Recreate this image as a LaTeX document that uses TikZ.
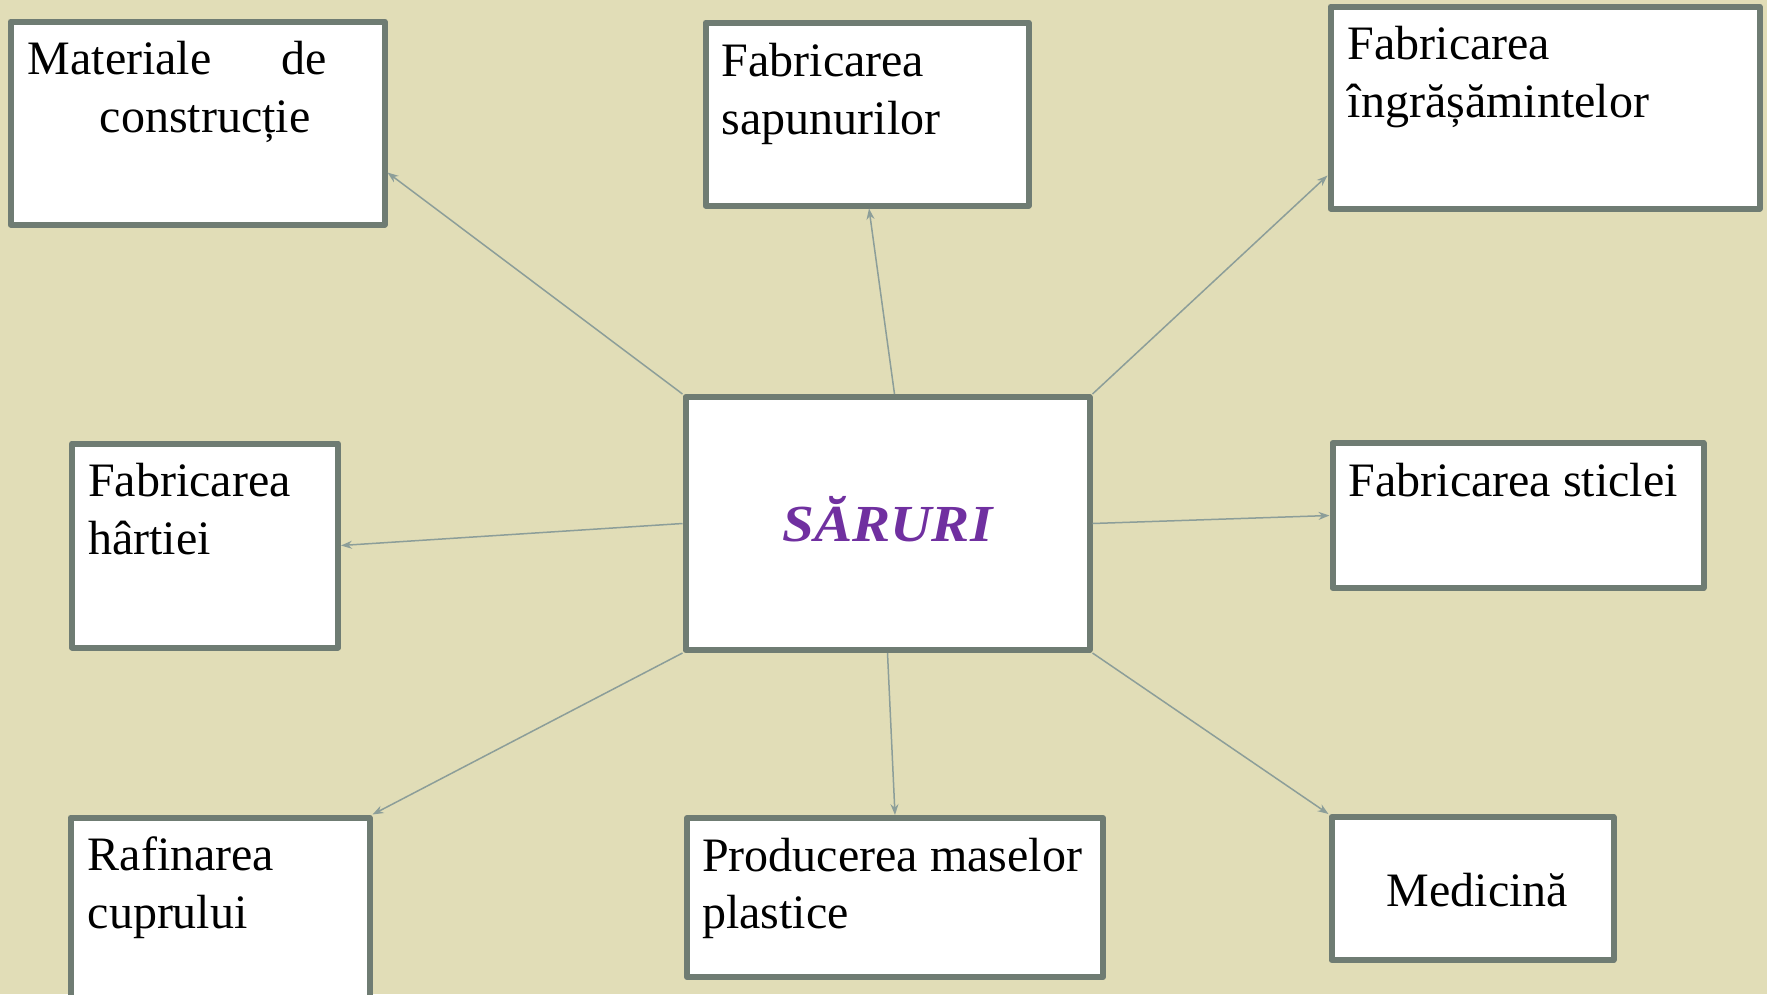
\documentclass[tikz,border=0pt]{standalone}
\usepackage{fontspec}
\setmainfont{Liberation Serif}
\usetikzlibrary{arrows.meta,calc}
\definecolor{bgc}{HTML}{E1DDB7}
\definecolor{bordc}{HTML}{6F7C73}
\definecolor{arrc}{HTML}{8C9E99}
\definecolor{purp}{HTML}{7030A0}
\tikzset{
  box/.style={draw=bordc, line width=6pt, fill=white, rectangle, inner sep=0pt, line join=round},
  lbl/.style={inner sep=0pt, anchor=base west, align=left, font=\fontsize{48}{57.5}\selectfont},
  conn/.style={draw=arrc, line width=1.5pt, -{Stealth[length=11pt,width=8pt]}}
}
\begin{document}
\begin{tikzpicture}[x=1pt,y=-1pt]
\fill[bgc] (0,0) rectangle (1767,994);
\useasboundingbox (0,0) rectangle (1767,994);
% boxes
\node[box, minimum width=374pt, minimum height=203pt] (mat) at (197.5,123) {};
\node[box, minimum width=323pt, minimum height=183pt] (sap) at (867,114) {};
\node[box, minimum width=429pt, minimum height=202pt] (ing) at (1545,107.5) {};
\node[box, minimum width=266pt, minimum height=204pt] (har) at (205,545.5) {};
\node[box, minimum width=404pt, minimum height=253pt] (sar) at (887.5,523.5) {};
\node[box, minimum width=371pt, minimum height=145pt] (sti) at (1518,515.5) {};
\node[box, minimum width=299pt, minimum height=190pt] (cup) at (220,912.5) {};
\node[box, minimum width=416pt, minimum height=159pt] (pla) at (895,897.5) {};
\node[box, minimum width=282pt, minimum height=143pt] (med) at (1472.5,888.5) {};
% texts (base = baseline of last line)
\node[lbl] (tmat) at ($(mat.north west)+(20,113.5)$) {\makebox[299pt][l]{Materiale\hfill de}\\\hspace*{72pt}construcție};
\node[lbl] (tsap) at ($(sap.north west)+(19,114.5)$) {Fabricarea\\sapunurilor};
\node[lbl] (ting) at ($(ing.north west)+(20,113.5)$) {Fabricarea\\îngrășămintelor};
\node[lbl] (thar) at ($(har.north west)+(19,113.5)$) {Fabricarea\\hârtiei};
\node[lbl] (tsti) at ($(sti.north west)+(19,56)$) {Fabricarea sticlei};
\node[lbl] (tcup) at ($(cup.north west)+(20,113.5)$) {Rafinarea\\cuprului};
\node[lbl] (tpla) at ($(pla.north west)+(18,113.5)$) {Producerea maselor\\plastice};
\node[lbl, anchor=base] (tmed) at ($(med.center)+(5,18)$) {Medicină};
\node[inner sep=0pt, anchor=base, text=purp, font=\fontsize{52}{60}\selectfont\bfseries\itshape] (tsar) at ($(sar.center)+(0,18)$) {\scalebox{1.1}[1]{SĂRURI}};
% connectors
\draw[conn] (sar.north west) -- ($(mat.south east)+(0,-55)$);
\draw[conn] ($(sar.north)+(7,0)$) -- ($(sap.south)+(2,0)$);
\draw[conn] (sar.north east) -- ($(ing.south west)+(0,-36)$);
\draw[conn] (sar.west) -- (har.east);
\draw[conn] (sar.east) -- (sti.west);
\draw[conn] (sar.south west) -- (cup.north east);
\draw[conn] (sar.south) -- (pla.north);
\draw[conn] (sar.south east) -- (med.north west);
\end{tikzpicture}
\end{document}
